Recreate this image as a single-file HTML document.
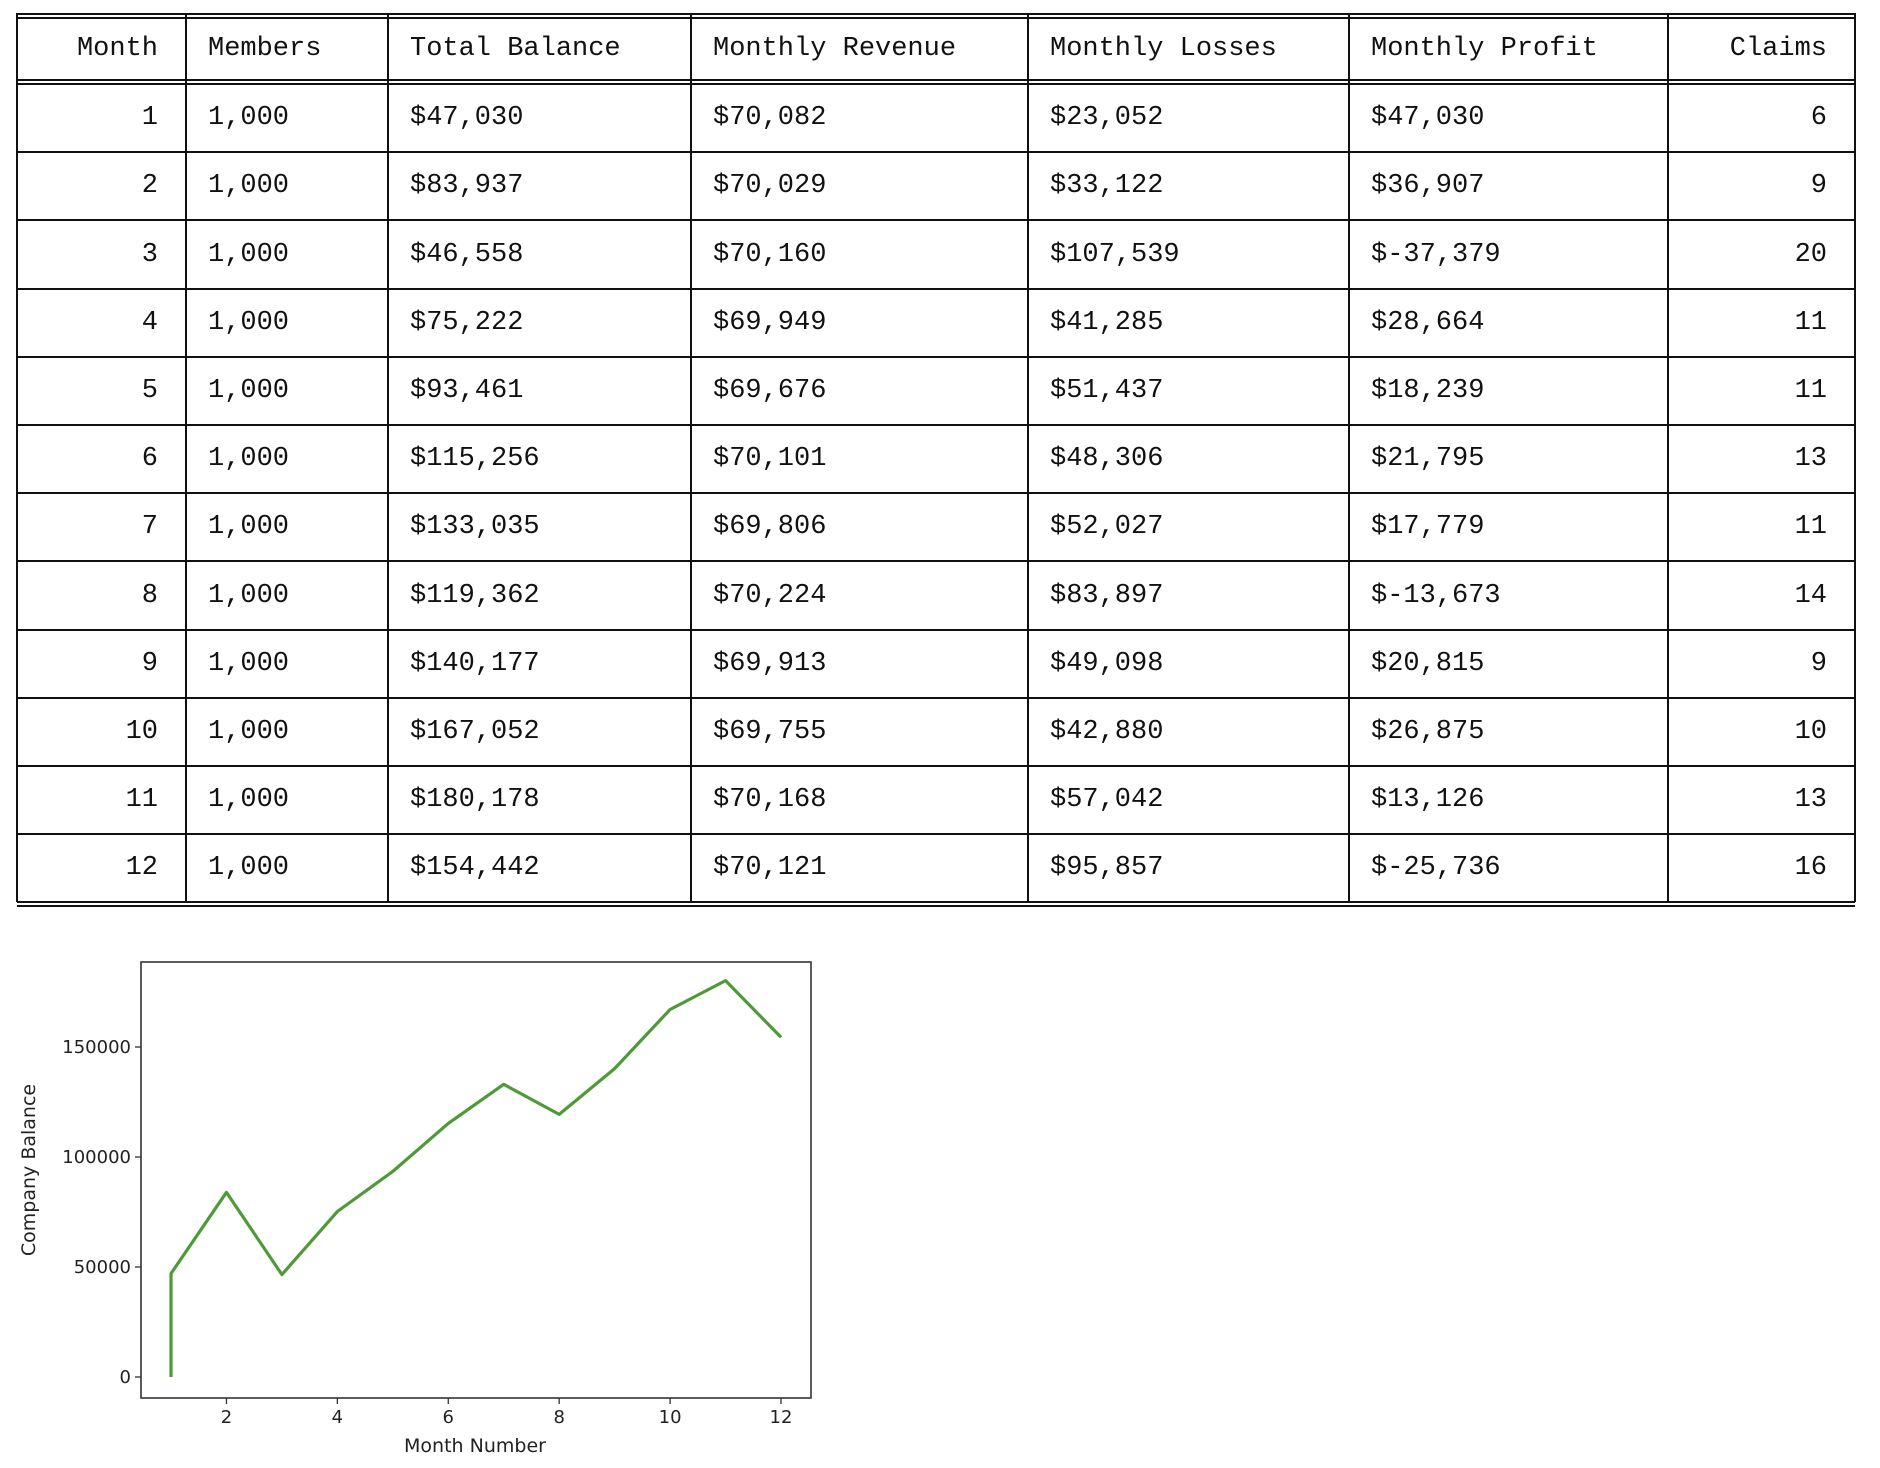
<!DOCTYPE html>
<html><head><meta charset="utf-8">
<style>
html,body{margin:0;padding:0;background:#fff;width:1880px;height:1468px;overflow:hidden}
#tbl{position:absolute;left:0;top:0;width:1880px;height:1468px}
.cell{position:absolute;font-family:"Liberation Mono",monospace;font-size:27px;color:#111;white-space:pre;line-height:30px}
.hl{position:absolute;background:#111}
svg text{font-family:"DejaVu Sans","Liberation Sans",sans-serif;fill:#222}
</style></head>
<body>
<div id="tbl"></div>
<svg id="chart" width="1880" height="1468" style="position:absolute;left:0;top:0"></svg>
<script>
const headers=["Month","Members","Total Balance","Monthly Revenue","Monthly Losses","Monthly Profit","Claims"];
const months=[1,2,3,4,5,6,7,8,9,10,11,12];
const members=["1,000","1,000","1,000","1,000","1,000","1,000","1,000","1,000","1,000","1,000","1,000","1,000"];
const balance=[47030,83937,46558,75222,93461,115256,133035,119362,140177,167052,180178,154442];
const revenue=["$70,082","$70,029","$70,160","$69,949","$69,676","$70,101","$69,806","$70,224","$69,913","$69,755","$70,168","$70,121"];
const losses=["$23,052","$33,122","$107,539","$41,285","$51,437","$48,306","$52,027","$83,897","$49,098","$42,880","$57,042","$95,857"];
const profit=["$47,030","$36,907","$-37,379","$28,664","$18,239","$21,795","$17,779","$-13,673","$20,815","$26,875","$13,126","$-25,736"];
const claims=[6,9,20,11,11,13,11,14,9,10,13,16];
const yTicks=[0,50000,100000,150000];
const xTicks=[2,4,6,8,10,12];

const tbl=document.getElementById('tbl');
const cols=[17,186,388,691,1028,1349,1668,1855];
const top0=16, headH=66, rowH=68.2;
const fmt=n=>"$"+n.toLocaleString('en-US');
function line(x,y,w,h){const d=document.createElement('div');d.className='hl';


d.style.cssText=`left:${x}px;top:${y}px;width:${w}px;height:${h}px`;tbl.appendChild(d);}
function cell(txt,ci,y,right){const d=document.createElement('div');d.className='cell';


d.textContent=txt;
if(right){d.style.right=(1880-cols[ci+1]+28)+'px';}else{d.style.left=(cols[ci]+22)+'px';}
d.style.top=(y-15)+'px';tbl.appendChild(d);}
const W=cols[7]-cols[0];
line(cols[0],top0-3,W,2);line(cols[0],top0+1,W,2);
line(cols[0],top0+headH-3,W,2);line(cols[0],top0+headH+1,W,2);
headers.forEach((h,i)=>cell(h,i,top0+headH/2,i==0||i==6));
for(let r=0;r<12;r++){
 const yc=top0+headH+rowH*r+rowH/2+2;
 const vals=[String(months[r]),members[r],fmt(balance[r]),revenue[r],losses[r],profit[r],String(claims[r])];
 vals.forEach((v,i)=>cell(v,i,yc,i==0||i==6));
 if(r<11) line(cols[0],top0+headH+rowH*(r+1)+1,W,2);
}
const bot=top0+headH+rowH*12+2;
line(cols[0],bot-1,W,2);line(cols[0],bot+3,W,2);
cols.forEach(x=>line(x-1,top0-3,2,bot-top0+3));

// chart
const svg=document.getElementById('chart');const NS='http://www.w3.org/2000/svg';
function el(t,a,name){const e=document.createElementNS(NS,t);for(const k in a)e.setAttribute(k,a[k]);


svg.appendChild(e);return e;}
const X0=141,X1=811,Y0=962,Y1=1398;
const xS=m=>171+(m-1)*(781-171)/11;
const yS=v=>1377-v*(330/150000);
el('rect',{x:X0,y:Y0,width:X1-X0,height:Y1-Y0,fill:'none',stroke:'#333','stroke-width':1.6},'plot-frame');
yTicks.forEach(t=>{const y=yS(t);el('line',{x1:X0-6,x2:X0,y1:y,y2:y,stroke:'#333','stroke-width':1.3},'y-tick');
const tx=el('text',{x:X0-10,y:y+6,'text-anchor':'end','font-size':18},'y-tick-label');tx.textContent=t;});
xTicks.forEach(t=>{const x=xS(t);el('line',{x1:x,x2:x,y1:Y1,y2:Y1+6,stroke:'#333','stroke-width':1.3},'x-tick');
const tx=el('text',{x:x,y:Y1+25,'text-anchor':'middle','font-size':18},'x-tick-label');tx.textContent=t;});
const xt=el('text',{x:475,y:1452,'text-anchor':'middle','font-size':19},'x-axis-title');xt.textContent='Month Number';
const yt=el('text',{x:35,y:1170,'text-anchor':'middle','font-size':19,transform:'rotate(-90 35 1170)'},'y-axis-title');yt.textContent='Company Balance';
let pts=[[xS(1),yS(0)]];months.forEach((m,i)=>pts.push([xS(m),yS(balance[i])]));
el('polyline',{points:pts.map(p=>p.join(',')).join(' '),fill:'none',stroke:'#4f9a38','stroke-width':3.2,'stroke-linejoin':'round'},'balance-line');
</script>
</body></html>
